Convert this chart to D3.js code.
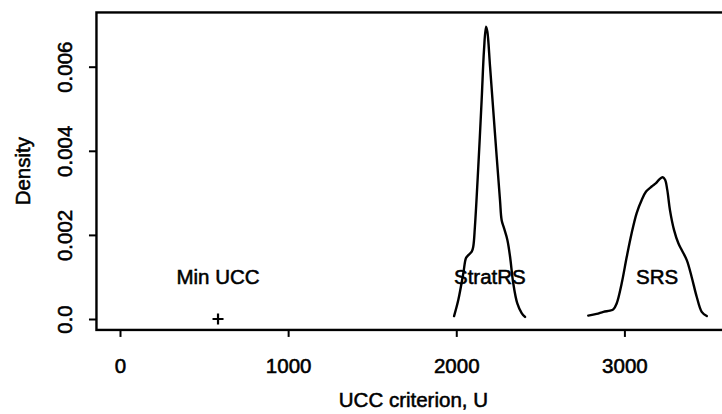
<!DOCTYPE html>
<html>
<head>
<meta charset="utf-8">
<script src="https://cdn.jsdelivr.net/npm/d3@7"></script>
<style>
  html, body { margin: 0; padding: 0; background: #fff; }
  svg text { font-family: "Liberation Sans", Arial, Helvetica, sans-serif; fill: #000; stroke: #000; stroke-width: 0.55px; }
</style>
</head>
<body>
<svg id="chart" width="722" height="414"></svg>
<script>
// Kernel density estimates of the UCC criterion for two sampling schemes
const stratX = [1987, 2012, 2042, 2058, 2072, 2092, 2101, 2111, 2131, 2151, 2165, 2177, 2185, 2201, 2230, 2260, 2270, 2284, 2304, 2320, 2339, 2363, 2389, 2409];
const stratY = [0.00007, 0.00045, 0.00109, 0.00145, 0.00152, 0.0016, 0.00172, 0.0022, 0.00362, 0.00521, 0.0064, 0.00695, 0.00683, 0.006, 0.00442, 0.00283, 0.00235, 0.00216, 0.00188, 0.00148, 0.00085, 0.00037, 0.00014, 0.00005];

const srsX = [2785, 2835, 2875, 2914, 2934, 2954, 2984, 3014, 3043, 3073, 3103, 3129, 3162, 3188, 3208, 3228, 3242, 3255, 3271, 3295, 3321, 3341, 3371, 3400, 3430, 3460, 3490];
const srsY = [0.00008, 0.00012, 0.00017, 0.0002, 0.00023, 0.00037, 0.00085, 0.00148, 0.00204, 0.00252, 0.00283, 0.00303, 0.00315, 0.00323, 0.00332, 0.00337, 0.00331, 0.00307, 0.00259, 0.00212, 0.0018, 0.00164, 0.0014, 0.001, 0.00053, 0.00017, 0.00007];

// Minimum attainable UCC value, marked with a cross
const minUcc = [583];
const minUccY = [0];

// Text annotations: label, x, y
const annLabels = ["Min UCC", "StratRS", "SRS"];
const annX = [583, 2200, 3195];
const annY = [0.001, 0.001, 0.001];

const xTicks = [0, 1000, 2000, 3000];
const yTicks = [0, 0.002, 0.004, 0.006];
const yTickLabels = ["0.0", "0.002", "0.004", "0.006"];

const svg = d3.select("#chart");

const x = d3.scaleLinear().domain([0, 3000]).range([120, 624.4]);
const y = d3.scaleLinear().domain([0, 0.006]).range([319, 66.7]);

// plot region (extends slightly past the right edge of the page)
const box = { left: x(-140), right: x(3630), top: y(0.00729), bottom: y(-0.00026) };

const FS = 20.5;

svg.append("rect")
  .attr("x", box.left).attr("y", box.top)
  .attr("width", box.right - box.left).attr("height", box.bottom - box.top)
  .attr("fill", "none").attr("stroke", "#000").attr("stroke-width", 2.4);

// x axis
const xAxis = d3.axisBottom(x).tickValues(xTicks).tickSize(7).tickPadding(9).tickFormat(d3.format("d"));
const gx = svg.append("g").attr("transform", `translate(0,${box.bottom})`).call(xAxis);
gx.select(".domain").remove();
gx.selectAll(".tick line").attr("stroke", "#000").attr("stroke-width", 2);
gx.selectAll(".tick text")
  .attr("font-size", FS).attr("font-family", "Liberation Sans, Arial, sans-serif")
  .attr("fill", "#000").attr("y", 0).attr("dy", null)
  .attr("transform", `translate(0,${373 - box.bottom})`);

// y axis with rotated labels
const yAxis = d3.axisLeft(y).tickValues(yTicks).tickSize(7.5).tickFormat((d, i) => yTickLabels[i]);
const gy = svg.append("g").attr("transform", `translate(${box.left},0)`).call(yAxis);
gy.select(".domain").remove();
gy.selectAll(".tick line").attr("stroke", "#000").attr("stroke-width", 2);
gy.selectAll(".tick text")
  .attr("font-size", FS).attr("font-family", "Liberation Sans, Arial, sans-serif")
  .attr("fill", "#000").attr("x", null).attr("dy", null)
  .attr("text-anchor", "middle")
  .attr("transform", `translate(${72 - box.left},0) rotate(-90)`);

// axis titles, centred on the plot region
svg.append("text")
  .attr("x", (box.left + box.right) / 2).attr("y", 407)
  .attr("text-anchor", "middle").attr("font-size", FS)
  .text("UCC criterion, U");

svg.append("text")
  .attr("transform", `translate(30,${(box.top + box.bottom) / 2}) rotate(-90)`)
  .attr("text-anchor", "middle").attr("font-size", FS)
  .text("Density");

// density curves
const line = d3.line().x(d => x(d[0])).y(d => y(d[1])).curve(d3.curveCatmullRom.alpha(0.5));
const series = [d3.zip(stratX, stratY), d3.zip(srsX, srsY)];
svg.selectAll("path.dens").data(series).enter().append("path")
  .attr("class", "dens")
  .attr("d", line)
  .attr("fill", "none").attr("stroke", "#000").attr("stroke-width", 2.4)
  .attr("stroke-linejoin", "round").attr("stroke-linecap", "round");

// cross marker at the minimum
svg.selectAll("path.cross").data(d3.zip(minUcc, minUccY)).enter().append("path")
  .attr("class", "cross")
  .attr("d", d => {
    const cx = x(d[0]), cy = y(d[1]), r = 5.5;
    return `M${cx - r},${cy}H${cx + r}M${cx},${cy - r}V${cy + r}`;
  })
  .attr("stroke", "#000").attr("stroke-width", 2.2);

// annotations
svg.selectAll("text.ann").data(annLabels).enter().append("text")
  .attr("class", "ann")
  .attr("x", (d, i) => x(annX[i]))
  .attr("y", (d, i) => y(annY[i]))
  .attr("dy", "0.35em")
  .attr("text-anchor", "middle").attr("font-size", FS)
  .text(d => d);
</script>
</body>
</html>
